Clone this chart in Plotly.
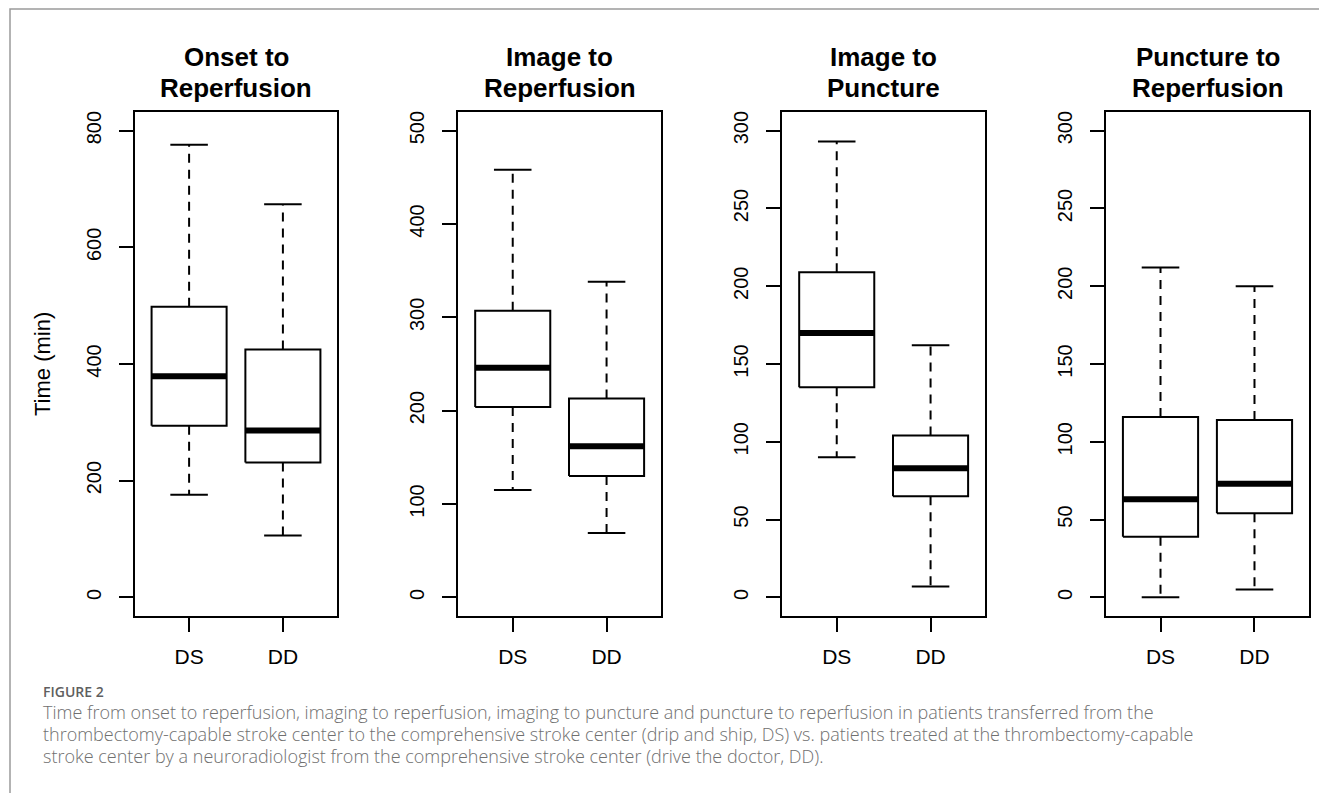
import plotly.graph_objects as go

W, H = 1319, 793

# ---------------- data ----------------
categories = ["DS", "DD"]
panel_titles = [
    ["Onset to", "Reperfusion"],
    ["Image to", "Reperfusion"],
    ["Image to", "Puncture"],
    ["Puncture to", "Reperfusion"],
]
# stats per group: [lower whisker, Q1, median, Q3, upper whisker]
onset_reperfusion_DS = [176, 294, 379, 498, 776]
onset_reperfusion_DD = [106, 231, 286, 425, 674]
image_reperfusion_DS = [115, 204, 246, 307, 458]
image_reperfusion_DD = [69, 130, 162, 213, 338]
image_puncture_DS = [90, 135, 170, 209, 293]
image_puncture_DD = [7, 65, 83, 104, 162]
puncture_reperfusion_DS = [0, 39, 63, 116, 212]
puncture_reperfusion_DD = [5, 54, 73, 114, 200]

ytick_p1 = [0, 200, 400, 600, 800]
ytick_p2 = [0, 100, 200, 300, 400, 500]
ytick_p3 = [0, 50, 100, 150, 200, 250, 300]
ytick_p4 = [0, 50, 100, 150, 200, 250, 300]

y_label = "Time (min)"
caption_head = "FIGURE 2"
caption_lines = [
    "Time from onset to reperfusion, imaging to reperfusion, imaging to puncture and puncture to reperfusion in patients transferred from the",
    "thrombectomy-capable stroke center to the comprehensive stroke center (drip and ship, DS) vs. patients treated at the thrombectomy-capable",
    "stroke center by a neuroradiologist from the comprehensive stroke center (drive the doctor, DD).",
]

panels = [
    ([onset_reperfusion_DS, onset_reperfusion_DD], ytick_p1),
    ([image_reperfusion_DS, image_reperfusion_DD], ytick_p2),
    ([image_puncture_DS, image_puncture_DD], ytick_p3),
    ([puncture_reperfusion_DS, puncture_reperfusion_DD], ytick_p4),
]

# ---------------- layout geometry (pixels) ----------------
frame_x = [(134.7, 337.3), (458.3, 661.0), (782.3, 985.0), (1106.0, 1309.0)]
frame_top, frame_bot = 112.0, 616.0

FONT = "Liberation Sans, Arial, Helvetica, sans-serif"

fig = go.Figure()
layout = dict(
    width=W, height=H,
    margin=dict(l=0, r=0, t=0, b=0),
    paper_bgcolor="white", plot_bgcolor="white",
    showlegend=False,
    font=dict(family=FONT, color="black"),
)

annotations = []
shapes = []

for p, ((groups, yticks), (x0, x1), title) in enumerate(zip(panels, frame_x, panel_titles)):
    n = p + 1
    xa = "x" if n == 1 else f"x{n}"
    ya = "y" if n == 1 else f"y{n}"
    xkey = "xaxis" if n == 1 else f"xaxis{n}"
    ykey = "yaxis" if n == 1 else f"yaxis{n}"
    ymin, ymax = min(yticks), max(yticks)
    pad = 0.04 * (ymax - ymin)
    layout[xkey] = dict(
        domain=[x0 / W, x1 / W], anchor=ya,
        range=[0.42, 2.58],
        tickmode="array", tickvals=[1, 2], ticktext=categories,
        ticks="outside", ticklen=14, tickwidth=2, tickcolor="black",
        showline=True, linewidth=2, linecolor="black", mirror=True,
        showgrid=False, zeroline=False,
        tickfont=dict(size=21, family=FONT, color="black"),
        ticklabelstandoff=7,
        fixedrange=True,
    )
    layout[ykey] = dict(
        domain=[1 - frame_bot / H, 1 - frame_top / H], anchor=xa,
        range=[ymin - pad, ymax + pad],
        tickmode="array", tickvals=yticks, ticktext=[str(v) for v in yticks],
        ticks="outside", ticklen=14, tickwidth=2, tickcolor="black",
        showline=True, linewidth=2, linecolor="black", mirror=True,
        showgrid=False, zeroline=False, tickangle=-90,
        tickfont=dict(size=20, family=FONT, color="black"),
        ticklabelstandoff=10,
        fixedrange=True,
    )

    for i, stats in enumerate(groups):
        xc = i + 1
        lo, q1, med, q3, hi = stats
        # whiskers (dashed)
        for a, b in ((q3, hi), (q1, lo)):
            fig.add_trace(go.Scatter(
                x=[xc, xc], y=[a, b], mode="lines", xaxis=xa, yaxis=ya,
                line=dict(color="black", width=2, dash="9px,7px"), hoverinfo="skip"))
        # staples
        for v in (hi, lo):
            fig.add_trace(go.Scatter(
                x=[xc - 0.2, xc + 0.2], y=[v, v], mode="lines", xaxis=xa, yaxis=ya,
                line=dict(color="black", width=2), hoverinfo="skip"))
        # box
        fig.add_trace(go.Scatter(
            x=[xc - 0.4, xc + 0.4, xc + 0.4, xc - 0.4, xc - 0.4],
            y=[q1, q1, q3, q3, q1], mode="lines", xaxis=xa, yaxis=ya,
            fill="toself", fillcolor="white",
            line=dict(color="black", width=2), hoverinfo="skip"))
        # median
        fig.add_trace(go.Scatter(
            x=[xc - 0.4, xc + 0.4], y=[med, med], mode="lines", xaxis=xa, yaxis=ya,
            line=dict(color="black", width=6), hoverinfo="skip"))

    # title (two lines)
    cx = (x0 + x1) / 2 / W
    for txt, yc in zip(title, (57, 88)):
        annotations.append(dict(
            text=f"<b>{txt}</b>", x=cx, y=1 - yc / H, xref="paper", yref="paper",
            xanchor="center", yanchor="middle", showarrow=False,
            font=dict(size=26, family=FONT, color="black")))

# y-axis label
annotations.append(dict(
    text=y_label, x=42 / W, y=1 - 364 / H, xref="paper", yref="paper",
    xanchor="center", yanchor="middle", textangle=-90, showarrow=False,
    font=dict(size=22, family=FONT, color="black")))

# caption
CAP_FONT = "Open Sans, Noto Sans, sans-serif"
annotations.append(dict(
    text=caption_head, x=42 / W, y=1 - 691 / H, xref="paper", yref="paper",
    xanchor="left", yanchor="middle", showarrow=False, borderpad=0,
    font=dict(size=14, family=CAP_FONT, color="#5f5f5f", weight=600)))
for line, yc in zip(caption_lines, (712, 734, 756)):
    annotations.append(dict(
        text=line, x=42 / W, y=1 - yc / H, xref="paper", yref="paper",
        xanchor="left", yanchor="middle", showarrow=False, borderpad=0,
        font=dict(size=18, family=CAP_FONT, color="#707070", weight=300)))

# outer border (left & top visible)
shapes.append(dict(
    type="rect", xref="paper", yref="paper",
    x0=10 / W, x1=1.02, y0=-0.02, y1=1 - 9 / H,
    line=dict(color="#9a9a9a", width=1.5), fillcolor="rgba(0,0,0,0)", layer="below"))

layout["annotations"] = annotations
layout["shapes"] = shapes
fig.update_layout(**layout)

fig.write_html(
    "out.html",
    config={"displayModeBar": False},
    post_script="document.body.style.margin='0';document.body.style.overflow='hidden';",
)
